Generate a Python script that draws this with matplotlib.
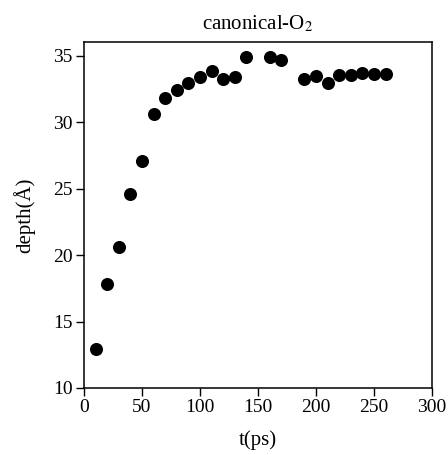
import matplotlib
matplotlib.use("Agg")
import matplotlib.pyplot as plt

t_ps = [10, 20, 30, 40, 50, 60, 70, 80, 90, 100, 110, 120, 130, 140,
        160, 170, 190, 200, 210, 220, 230, 240, 250, 260]
depth = [12.9, 17.8, 20.6, 24.6, 27.1, 30.6, 31.8, 32.45, 33.0, 33.4, 33.9, 33.25, 33.4, 34.9,
         34.9, 34.7, 33.25, 33.5, 33.0, 33.6, 33.6, 33.75, 33.65, 33.65]
xticks = [0, 50, 100, 150, 200, 250, 300]
yticks = [10, 15, 20, 25, 30, 35]

plt.rcParams['font.family'] = ['Liberation Serif', 'DejaVu Serif']
plt.rcParams['mathtext.fontset'] = 'stix'

fig = plt.figure(figsize=(4.48, 4.55), dpi=100)
ax = fig.add_axes([84/448, 67/455, 348/448, 346/455])
ax.plot(t_ps, depth, 'o', color='black', markersize=9.4, markeredgewidth=0)
ax.set_xlim(0, 300)
ax.set_ylim(10, 36.05)
ax.set_xticks(xticks)
ax.set_yticks(yticks)
ax.tick_params(direction='out', length=6, width=1, labelsize=14, pad=2)
for s in ax.spines.values():
    s.set_linewidth(1.1)
ax.set_title('canonical-O$_{2}$', fontsize=15, pad=9)
ax.set_xlabel('t(ps)', fontsize=15, labelpad=10)
ax.set_ylabel('depth(Å)', fontsize=15, labelpad=13)
fig.savefig('out.png', dpi=100)
